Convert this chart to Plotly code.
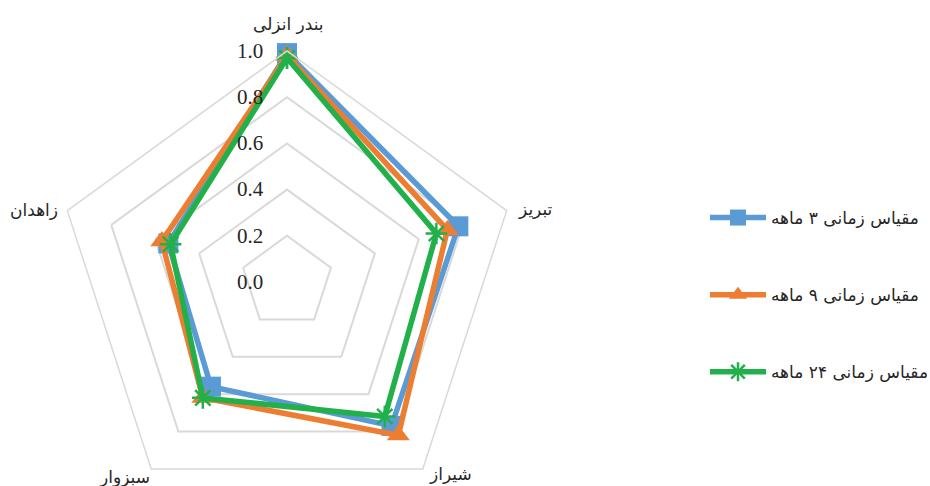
import plotly.graph_objects as go

categories = ["بندر انزلی", "تبریز", "شیراز", "سبزوار", "زاهدان"]
series_names = ["مقیاس زمانی ۳ ماهه", "مقیاس زمانی ۹ ماهه", "مقیاس زمانی ۲۴ ماهه"]
s3 = [0.99, 0.78, 0.77, 0.56, 0.54]
s9 = [0.98, 0.73, 0.82, 0.62, 0.57]
s24 = [0.97, 0.68, 0.72, 0.62, 0.53]
radial_ticks = [0.0, 0.2, 0.4, 0.6, 0.8, 1.0]

colors = ["#5b9bd5", "#ed7d31", "#22b04b"]
symbols = ["square", "triangle-up", "asterisk-open"]
sizes = [20, 20, 18]

# category label placement (pixels from top-left of the page)
label_pos = [(288, 24), (535, 209), (450, 474), (124, 477), (34, 210)]

W, H = 930, 520
fig = go.Figure()
for i, (name, vals) in enumerate(zip(series_names, [s3, s9, s24])):
    fig.add_trace(go.Scatterpolar(
        r=vals + vals[:1],
        theta=categories + categories[:1],
        mode="lines+markers",
        name=name,
        legendgroup=str(i),
        line=dict(color=colors[i], width=5.5),
        marker=dict(symbol=symbols[i], size=sizes[i], color=colors[i],
                    line=dict(color=colors[i], width=2.5 if i == 2 else 0)),
    ))

annotations = []
for cat, (px, py) in zip(categories, label_pos):
    annotations.append(dict(
        text=cat, x=px / W, y=(H - py) / H, xref="paper", yref="paper",
        xanchor="center", yanchor="middle", showarrow=False,
        font=dict(size=17, family="DejaVu Sans", color="#262626"),
    ))

fig.update_layout(
    width=W, height=H,
    margin=dict(l=0, r=0, t=0, b=0, autoexpand=False),
    paper_bgcolor="white",
    plot_bgcolor="white",
    font=dict(family="Liberation Serif, DejaVu Sans", color="#262626", size=17),
    annotations=annotations,
    polar=dict(
        domain=dict(x=[56 / W, 518 / W], y=[(H - 513) / H, (H - 51) / H]),
        gridshape="linear",
        bgcolor="white",
        radialaxis=dict(
            range=[0, 1], tickvals=radial_ticks, tickformat=".1f",
            angle=90, tickangle=90, side="counterclockwise",
            showline=False, gridcolor="#d9d9d9", gridwidth=1.5,
            ticks="outside", ticklen=16, tickcolor="rgba(0,0,0,0)",
            tickfont=dict(size=21, family="Liberation Serif", color="#262626"),
        ),
        angularaxis=dict(
            direction="clockwise", rotation=90,
            showgrid=False, showline=True, linecolor="#d9d9d9", linewidth=1.5,
            ticks="", showticklabels=False,
        ),
    ),
    legend=dict(
        x=705 / W, y=(H - 200) / H, xanchor="left", yanchor="top",
        itemwidth=56, tracegroupgap=52,
        font=dict(size=17, family="DejaVu Sans", color="#262626"),
        bgcolor="rgba(0,0,0,0)",
    ),
    showlegend=True,
)

fig.write_html("out.html", post_script="document.documentElement.style.overflow='hidden';document.body.style.overflow='hidden';document.body.style.margin='0';")
